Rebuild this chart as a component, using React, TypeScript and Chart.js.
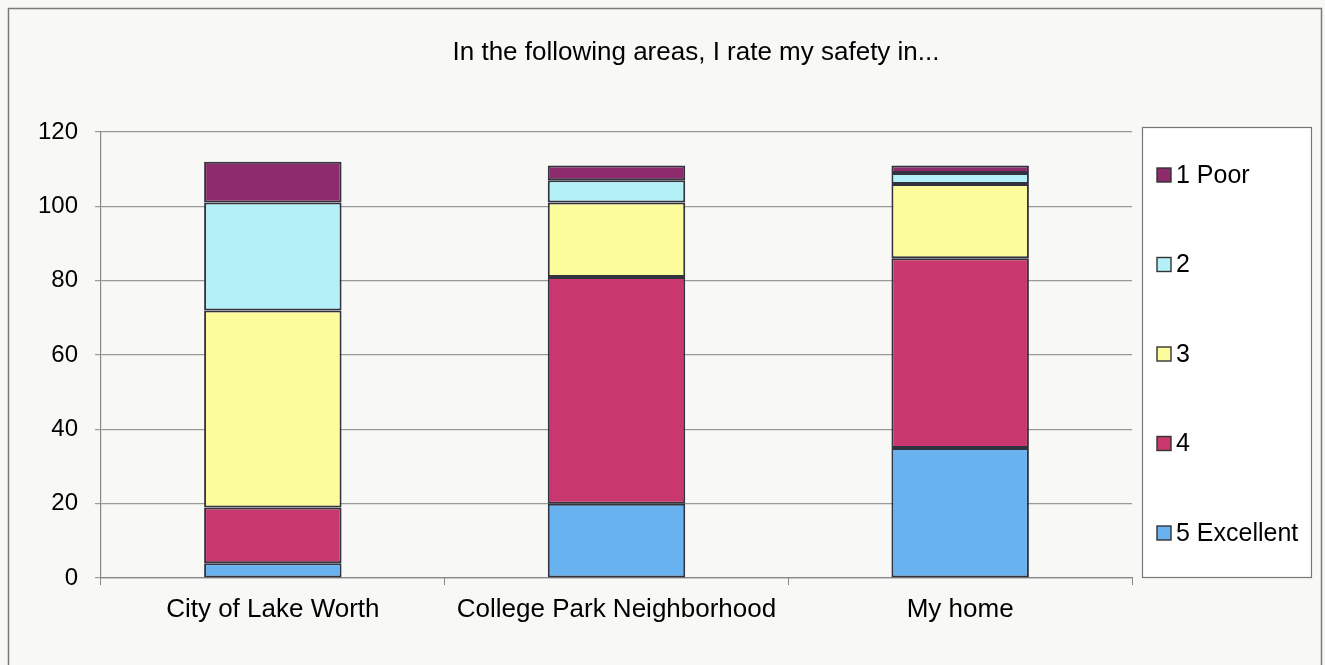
import React, { useEffect, useRef } from "react";
import { Chart, registerables } from "chart.js";

Chart.register(...registerables);

const TITLE = "In the following areas, I rate my safety in...";
const categories = ["City of Lake Worth", "College Park Neighborhood", "My home"];
const seriesNames = ["5 Excellent", "4", "3", "2", "1 Poor"];
const excellent5 = [4, 20, 35];
const rating4 = [15, 61, 51];
const rating3 = [53, 20, 20];
const rating2 = [29, 6, 3];
const poor1 = [11, 4, 2];
const seriesColors = ["#68b2ef", "#c8386e", "#fdfc9c", "#b4f0f8", "#8e2b6c"];
const yTicks = [0, 20, 40, 60, 80, 100, 120];

const FONT = "'Liberation Sans', Arial, sans-serif";

export default function App() {
  const ref = useRef<HTMLCanvasElement | null>(null);

  useEffect(() => {
    if (!ref.current) return;
    const values = [excellent5, rating4, rating3, rating2, poor1];

    const decor = {
      id: "decor",
      beforeDraw(chart: any) {
        const ctx = chart.ctx;
        ctx.save();
        ctx.fillStyle = "#f8f8f6";
        ctx.fillRect(0, 0, chart.width, chart.height);
        ctx.strokeStyle = "#7a7a7a";
        ctx.lineWidth = 1.5;
        ctx.strokeRect(8.5, 8.5, 1313, 700);
        ctx.restore();
      },
      afterDraw(chart: any) {
        const ctx = chart.ctx;
        ctx.save();
        // title
        ctx.fillStyle = "#000";
        ctx.font = `26px ${FONT}`;
        ctx.textAlign = "center";
        ctx.textBaseline = "middle";
        ctx.fillText(TITLE, 696, 53);
        // legend
        const bx = 1142, by = 127, bw = 169, bh = 450;
        ctx.strokeStyle = "#777";
        ctx.lineWidth = 1.2;
        ctx.fillStyle = "#ffffff";
        ctx.fillRect(bx, by, bw, bh);
        ctx.strokeRect(bx + 0.5, by + 0.5, bw, bh);
        ctx.font = `25px ${FONT}`;
        ctx.textAlign = "left";
        const n = seriesNames.length;
        for (let i = 0; i < n; i++) {
          const di = n - 1 - i;
          const cy = by + 48 + i * 89.5;
          ctx.fillStyle = seriesColors[di];
          ctx.fillRect(1157, cy - 7, 14, 14);
          ctx.strokeStyle = "#333";
          ctx.lineWidth = 1.4;
          ctx.strokeRect(1157, cy - 7, 14, 14);
          ctx.fillStyle = "#000";
          ctx.fillText(seriesNames[di], 1176, cy + 1);
        }
        ctx.restore();
      },
    };

    const chart = new Chart(ref.current, {
      type: "bar",
      data: {
        labels: categories,
        datasets: seriesNames.map((name, i) => ({
          label: name,
          data: values[i],
          backgroundColor: seriesColors[i],
          borderColor: "#33333f",
          borderWidth: 2,
          borderSkipped: false,
          barPercentage: 0.4,
          categoryPercentage: 1,
        })),
      },
      options: {
        responsive: false,
        animation: false,
        layout: { padding: { top: 132, right: 193, left: 0, bottom: 0 } },
        plugins: {
          legend: { display: false },
          title: { display: false },
          tooltip: { enabled: false },
        },
        scales: {
          x: {
            stacked: true,
            grid: {
              display: true,
              drawOnChartArea: false,
              drawTicks: true,
              tickLength: 7,
              color: "#888",
              offset: true,
            },
            border: { display: true, color: "#888", width: 1.2 },
            ticks: {
              color: "#000",
              font: { family: FONT, size: 26 },
              padding: 9,
            },
            afterFit(scale: any) {
              scale.height = 87;
            },
          },
          y: {
            stacked: true,
            min: 0,
            max: 120,
            afterBuildTicks(scale: any) {
              scale.ticks = yTicks.map((v) => ({ value: v }));
            },
            grid: {
              color: "#999",
              lineWidth: 1.2,
              drawTicks: true,
              tickLength: 6,
            },
            border: { display: true, color: "#888", width: 1.2 },
            ticks: {
              color: "#000",
              font: { family: FONT, size: 24 },
              padding: 17,
            },
            afterFit(scale: any) {
              scale.width = 101;
            },
          },
        },
      },
      plugins: [decor],
    });
    return () => chart.destroy();
  }, []);

  return (
    <div style={{ position: "fixed", left: 0, top: 0, width: 1325, height: 665, overflow: "hidden" }}>
      <canvas ref={ref} width={1325} height={665} style={{ width: 1325, height: 665, display: "block" }} />
    </div>
  );
}
